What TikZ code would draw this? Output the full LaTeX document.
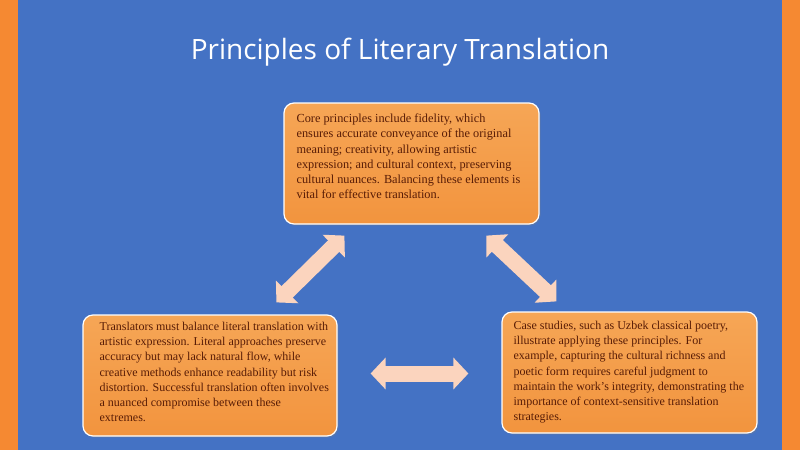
\documentclass[tikz,border=0pt]{standalone}
\usepackage{fontspec}
\setmainfont{Liberation Serif}
\newfontfamily\titlefont{Open Sans}
\usetikzlibrary{arrows.meta}
\usetikzlibrary{calc}
\usetikzlibrary{positioning}
\usetikzlibrary{shadows}
\definecolor{slideblue}{RGB}{68,114,196}
\definecolor{edgeorange}{RGB}{245,137,50}
\definecolor{boxtop}{RGB}{246,166,86}
\definecolor{boxbottom}{RGB}{242,148,62}
\definecolor{boxink}{RGB}{88,28,6}
\definecolor{peach}{RGB}{251,212,190}
\tikzset{
	box/.style={rectangle,rounded corners=10pt,draw=white,line width=1.2pt,
		top color=boxtop,bottom color=boxbottom,minimum height=121pt,
		drop shadow={shadow xshift=1.5pt,shadow yshift=-1.5pt,opacity=.3}},
	boxtext/.style={anchor=north west,inner sep=0pt,align=left,text=boxink,
		font=\fontsize{12}{15.2}\selectfont},
	dblarrow/.style={draw=peach,line width=16pt,
		{Triangle[length=15pt,width=31pt]}-{Triangle[length=15pt,width=31pt]}}
}
\begin{document}
\begin{tikzpicture}[x=1pt,y=-1pt]
		\fill [edgeorange] (0,0) rectangle (800,450);
		\fill [slideblue] (18,0) rectangle (782,450);

		\node [text=white,font=\titlefont\fontsize{28}{32}\selectfont] (title) at (400,52) {Principles of Literary Translation};

		\node [box,minimum width=255pt] (core) at (411.5,163.5) {};
		\node [box,minimum width=254pt] (balance) at (210,375.5) {};
		\node [box,minimum width=255pt] (cases) at (629.5,372.5) {};

		\node [boxtext,font=\fontsize{12.3}{15.2}\selectfont] at ($(core.north west)+(13,11.5)$) {Core principles include fidelity, which\\ensures accurate conveyance of the original\\meaning; creativity, allowing artistic\\expression; and cultural context, preserving\\cultural nuances. Balancing these elements is\\vital for effective translation.};
		\node [boxtext] at ($(balance.north west)+(17,7.5)$) {Translators must balance literal translation with\\artistic expression. Literal approaches preserve\\accuracy but may lack natural flow, while\\creative methods enhance readability but risk\\distortion. Successful translation often involves\\a nuanced compromise between these\\extremes.};
		\node [boxtext] at ($(cases.north west)+(12,9.5)$) {Case studies, such as Uzbek classical poetry,\\illustrate applying these principles. For\\example, capturing the cultural richness and\\poetic form requires careful judgment to\\maintain the work's integrity, demonstrating the\\importance of context-sensitive translation\\strategies.};

		\coordinate (core-left) at ($(core.south west)+(61,11)$);
		\coordinate (left-core) at ($(balance.north west)+(194,-12)$);
		\coordinate (core-right) at ($(core.south west)+(203,11)$);
		\coordinate (right-core) at ($(cases.north west)+(55,-10)$);
		\coordinate (left-right) at ($(balance.east)+(33,-2)$);
		\coordinate (right-left) at ($(cases.west)+(-33,1)$);

		\draw [dblarrow] (left-core) -- (core-left);
		\draw [dblarrow] (core-right) -- (right-core);
		\draw [dblarrow] (left-right) -- (right-left);
	\end{tikzpicture}
\end{document}
